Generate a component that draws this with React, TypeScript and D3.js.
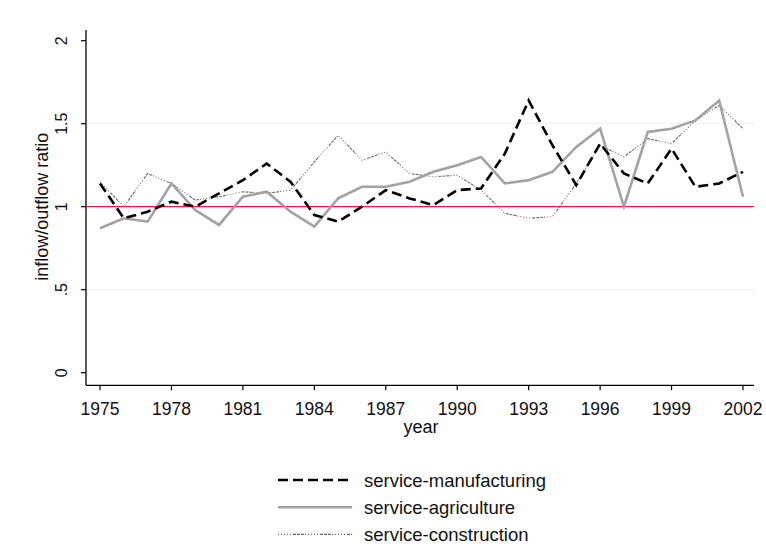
import React, { useEffect, useRef } from 'react';
import * as d3 from 'd3';

// years on the x axis
const years: number[] = d3.range(1975, 2003);

// inflow/outflow ratios
const manufacturing: number[] = [
  1.14, 0.93, 0.97, 1.03, 1.0, 1.08, 1.16, 1.26, 1.15, 0.95,
  0.91, 1.0, 1.1, 1.05, 1.01, 1.1, 1.11, 1.32, 1.64, 1.37,
  1.13, 1.38, 1.2, 1.14, 1.35, 1.12, 1.14, 1.21,
];
const agriculture: number[] = [
  0.87, 0.93, 0.91, 1.14, 0.98, 0.89, 1.06, 1.09, 0.97, 0.88,
  1.05, 1.12, 1.12, 1.15, 1.21, 1.25, 1.3, 1.14, 1.16, 1.21,
  1.36, 1.47, 1.0, 1.45, 1.47, 1.52, 1.64, 1.06,
];
const construction: number[] = [
  1.15, 1.0, 1.2, 1.14, 1.04, 1.06, 1.09, 1.08, 1.1, 1.27,
  1.43, 1.28, 1.33, 1.2, 1.18, 1.19, 1.1, 0.96, 0.93, 0.94,
  1.14, 1.37, 1.3, 1.41, 1.38, 1.52, 1.61, 1.47,
];

const xTicks: number[] = [1975, 1978, 1981, 1984, 1987, 1990, 1993, 1996, 1999, 2002];
const yTicks: number[] = [0, 0.5, 1, 1.5, 2];
const yTickLabels: string[] = ['0', '.5', '1', '1.5', '2'];
const gridValues: number[] = [0.5, 1.5];
const refLine = 1;

interface Series {
  name: string;
  values: number[];
  color: string;
  width: number;
  dash: string | null;
}

const series: Series[] = [
  { name: 'service-manufacturing', values: manufacturing, color: '#000000', width: 2.6, dash: '10,5' },
  { name: 'service-agriculture', values: agriculture, color: '#a3a3a3', width: 2.6, dash: null },
  { name: 'service-construction', values: construction, color: '#6a6a6a', width: 1.1, dash: '1,2,1,2,1,2,1,2,1,2,3,1,3,1,3,1' },
];

const FONT = '"Liberation Sans", Arial, sans-serif';

const App: React.FC = () => {
  const svgRef = useRef<SVGSVGElement>(null);

  useEffect(() => {
    if (!svgRef.current) return;
    const svg = d3.select(svgRef.current);
    svg.selectAll('*').remove();

    const x = d3.scaleLinear().domain([1975, 2002]).range([100, 743]);
    const y = d3.scaleLinear().domain([0, 2]).range([372.7, 40.7]);
    const axisLeft = 86;
    const axisBottom = 385.3;
    const plotRight = 754;

    svg.append('rect').attr('width', 766).attr('height', 560).attr('fill', '#ffffff');

    // light grid lines
    svg.selectAll('line.grid')
      .data(gridValues)
      .join('line')
      .attr('class', 'grid')
      .attr('x1', axisLeft)
      .attr('x2', plotRight)
      .attr('y1', (d) => y(d))
      .attr('y2', (d) => y(d))
      .attr('stroke', '#eaf2f1')
      .attr('stroke-width', 1);

    // y axis
    svg.append('line')
      .attr('x1', axisLeft).attr('x2', axisLeft)
      .attr('y1', 30).attr('y2', axisBottom)
      .attr('stroke', '#000').attr('stroke-width', 1.3);
    svg.selectAll('line.ytick')
      .data(yTicks)
      .join('line')
      .attr('class', 'ytick')
      .attr('x1', axisLeft - 5).attr('x2', axisLeft)
      .attr('y1', (d) => y(d)).attr('y2', (d) => y(d))
      .attr('stroke', '#000').attr('stroke-width', 1.2);
    svg.selectAll('text.ylab')
      .data(yTicks)
      .join('text')
      .attr('class', 'ylab')
      .attr('transform', (d) => `translate(67,${y(d)}) rotate(-90)`)
      .attr('text-anchor', 'middle')
      .style('font', `16px ${FONT}`)
      .attr('fill', '#111')
      .text((_, i) => yTickLabels[i]);
    svg.append('text')
      .attr('transform', `translate(48,${y(1)}) rotate(-90)`)
      .attr('text-anchor', 'middle')
      .style('font', `18px ${FONT}`)
      .attr('fill', '#111')
      .text('inflow/outflow ratio');

    // x axis
    svg.append('line')
      .attr('x1', axisLeft).attr('x2', plotRight)
      .attr('y1', axisBottom).attr('y2', axisBottom)
      .attr('stroke', '#000').attr('stroke-width', 1.3);
    svg.selectAll('line.xtick')
      .data(xTicks)
      .join('line')
      .attr('class', 'xtick')
      .attr('x1', (d) => x(d)).attr('x2', (d) => x(d))
      .attr('y1', axisBottom).attr('y2', axisBottom + 5)
      .attr('stroke', '#000').attr('stroke-width', 1.2);
    svg.selectAll('text.xlab')
      .data(xTicks)
      .join('text')
      .attr('class', 'xlab')
      .attr('x', (d) => x(d))
      .attr('y', 414.5)
      .attr('text-anchor', 'middle')
      .style('font', `17.5px ${FONT}`)
      .attr('fill', '#111')
      .text((d) => String(d));
    svg.append('text')
      .attr('x', 421).attr('y', 432.5)
      .attr('text-anchor', 'middle')
      .style('font', `18px ${FONT}`)
      .attr('fill', '#111')
      .text('year');

    // reference line at 1
    svg.append('line')
      .attr('x1', axisLeft).attr('x2', plotRight)
      .attr('y1', y(refLine)).attr('y2', y(refLine))
      .attr('stroke', '#dc1f4e').attr('stroke-width', 1.3);

    // series lines
    const line = d3.line<number>()
      .x((_, i) => x(years[i]))
      .y((d) => y(d));

    series.slice().reverse().forEach((s) => {
      svg.append('path')
        .datum(s.values)
        .attr('d', line)
        .attr('fill', 'none')
        .attr('stroke', s.color)
        .attr('stroke-width', s.width)
        .attr('stroke-linejoin', 'miter')
        .attr('stroke-dasharray', s.dash ?? null);
    });

    // legend
    const legend = svg.append('g');
    series.forEach((s, i) => {
      const ly = 480 + i * 27.2;
      legend.append('line')
        .attr('x1', 278).attr('x2', 352)
        .attr('y1', ly).attr('y2', ly)
        .attr('stroke', s.color)
        .attr('stroke-width', s.width)
        .attr('stroke-dasharray', s.dash ?? null);
      legend.append('text')
        .attr('x', 364).attr('y', ly + 7)
        .style('font', `18.5px ${FONT}`)
        .attr('fill', '#111')
        .text(s.name);
    });
  }, []);

  return (
    <svg
      ref={svgRef}
      width={766}
      height={560}
      style={{ position: 'absolute', left: 0, top: 0, display: 'block' }}
    />
  );
};

export default App;
